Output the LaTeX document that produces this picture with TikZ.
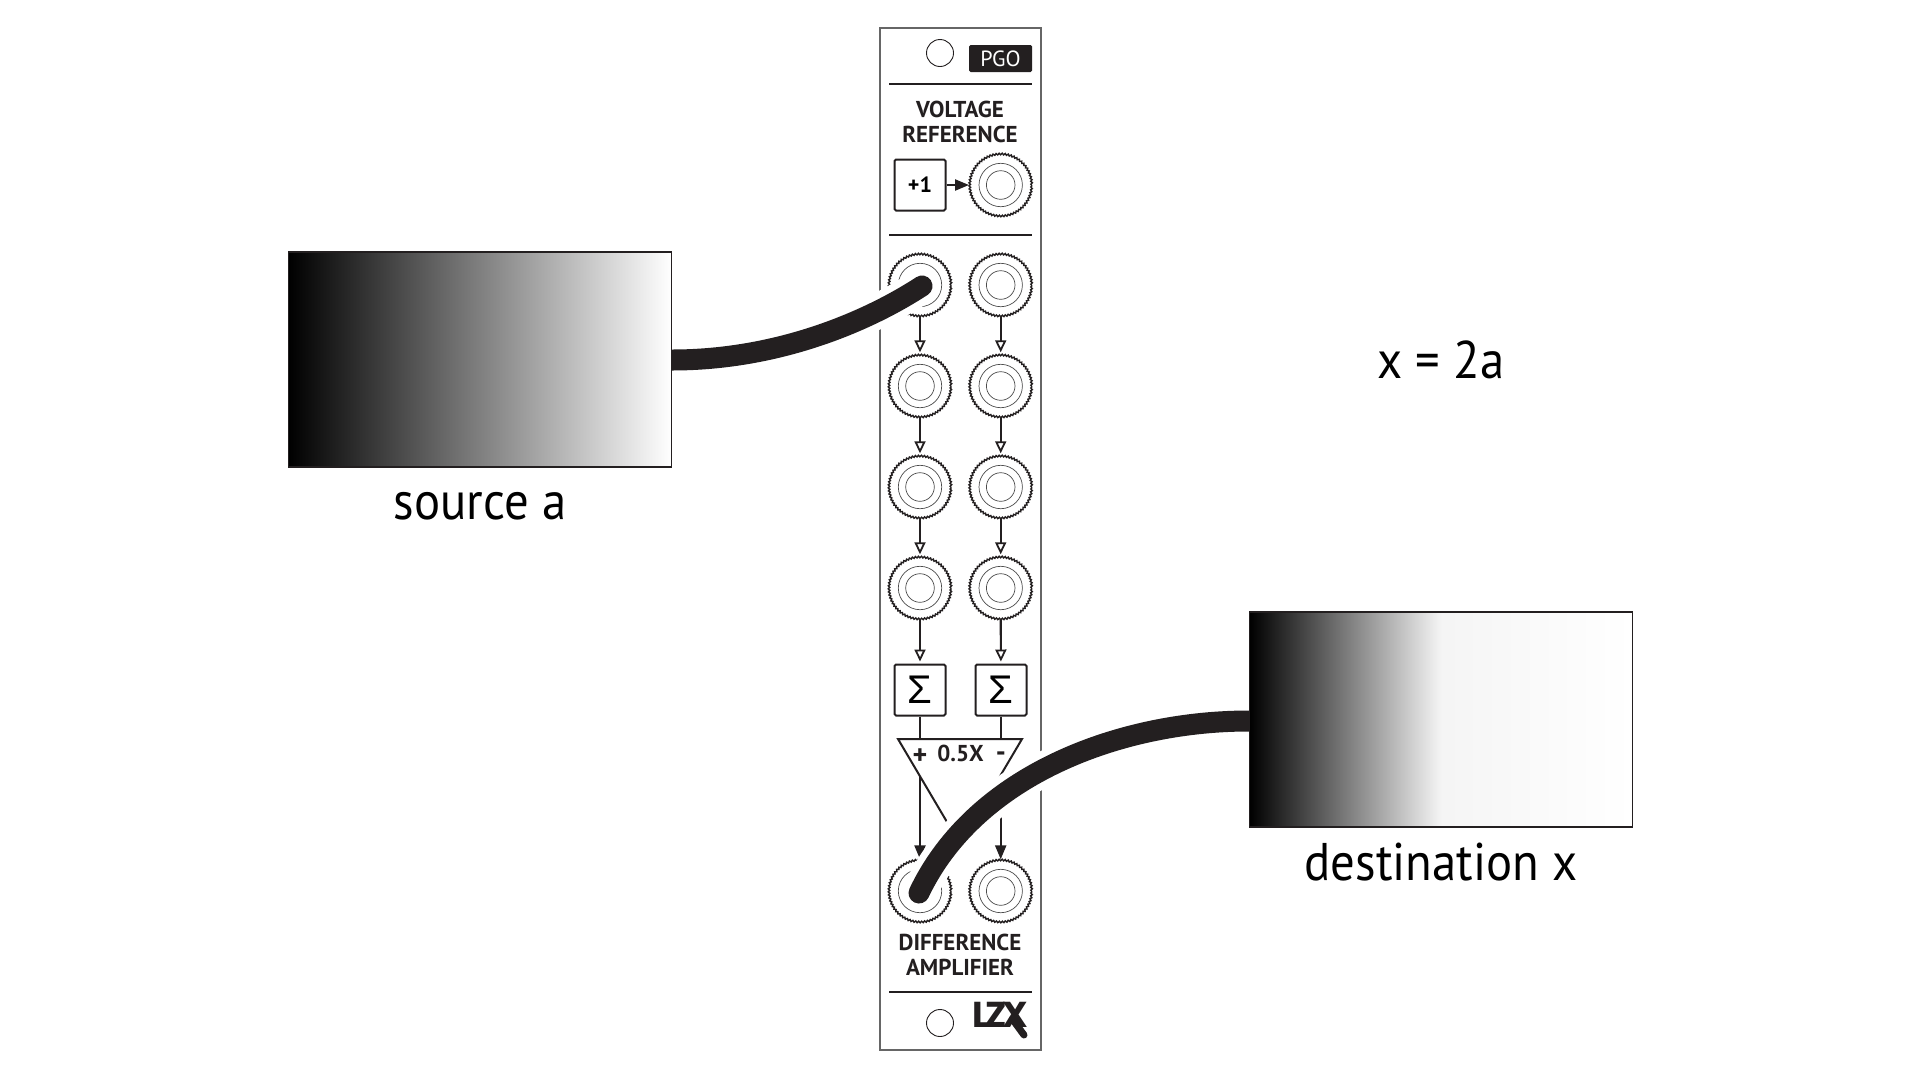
\documentclass[tikz,border=0pt]{standalone}
\usepackage{fontspec}
\setmainfont[FakeStretch=0.92]{PT Sans}
\newfontfamily\panelfont{PT Sans}
\newfontfamily\sigmafont{Liberation Sans}
\newfontfamily\logofont{Poppins}
\usetikzlibrary{arrows.meta,positioning,decorations.pathmorphing}
\definecolor{inkdark}{HTML}{231F20}
\pgfdeclarehorizontalshading{destshade}{100bp}{color(0bp)=(black); color(25bp)=(black); color(50bp)=(black!4); color(75bp)=(white); color(100bp)=(white)}
\tikzset{
    panel/.style={
        rectangle,
        draw=black!60,
        line width=1.3pt,
        fill=white,
        minimum width=161pt,
        minimum height=1022pt,
        inner sep=0pt,
    },
    jack/.style={
        circle,
        draw=inkdark,
        line width=1.4pt,
        minimum size=62pt,
        inner sep=0pt,
        decorate,
        decoration={zigzag,segment length=3pt,amplitude=0.8pt},
    },
    ledhole/.style={
        circle,
        draw=inkdark,
        line width=0.9pt,
        minimum size=27pt,
        inner sep=0pt,
    },
    opbox/.style={
        rectangle,
        rounded corners=1.5pt,
        draw=inkdark,
        line width=2pt,
        minimum size=51pt,
        inner sep=0pt,
    },
    rulebar/.style={
        draw=inkdark,
        line width=2pt,
    },
    ringline/.style={
        draw=black!70,
        line width=0.7pt,
    },
    flow/.style={
        draw=inkdark,
        line width=2.2pt,
        shorten >=2pt,
        -{Triangle[open,fill=white,length=12pt,width=11pt,line width=1.8pt]},
    },
    flowsolid/.style={
        draw=inkdark,
        line width=2.2pt,
        -{Triangle[length=14pt,width=11pt]},
    },
    plainwire/.style={
        draw=inkdark,
        line width=2pt,
    },
    cablehalo/.style={
        draw=white,
        line width=35pt,
        line cap=round,
    },
    cablecore/.style={
        draw=inkdark,
        line width=21pt,
        line cap=round,
    },
    rampbox/.style={
        rectangle,
        draw=inkdark,
        line width=1.2pt,
        minimum width=383pt,
        minimum height=215pt,
        inner sep=0pt,
    },
    paneltext/.style={
        font=\panelfont\bfseries\fontsize{23}{25.5}\selectfont,
        text=inkdark,
        align=center,
        inner sep=0pt,
    },
    biglabel/.style={
        font=\fontsize{53}{60}\selectfont,
        text=black,
        text height=30pt,
        text depth=0pt,
        inner sep=0pt,
    },
}
\newcommand{\jackrings}[1]{
    \draw[ringline] (#1) circle (21.7pt);
    \draw[ringline] (#1) circle (14.3pt);
    \foreach \side in {-1,1} {
        \draw[ringline,draw=black!40] ([shift={(\side*22,2.5)}]#1) -- ([shift={(\side*31,2.5)}]#1);
        \draw[ringline,draw=black!40] ([shift={(\side*22,-2.5)}]#1) -- ([shift={(\side*31,-2.5)}]#1);
    }
}
\begin{document}
\begin{tikzpicture}[x=1pt,y=-1pt]
    \useasboundingbox (0,0) rectangle (1920,1080);
    \node [panel] (front) at (960.5,539) {};
    \node [ledhole] (ledtop) at (940,53) {};
    \node [ledhole] (ledbot) at (940,1023) {};
    \node [rectangle,rounded corners=1.5pt,fill=inkdark,text=white,minimum width=63pt,minimum height=27pt,inner sep=0pt,font=\panelfont\fontsize{22}{24}\selectfont] (pgo) at (1000.5,58.5) {PGO};
    \draw [rulebar] (889,84) -- (1032,84);
    \draw [rulebar] (889,235) -- (1032,235);
    \draw [rulebar] (889,992) -- (1032,992);
    \node [paneltext] (vreftext) at (960,122) {VOLTAGE\\REFERENCE};
    \node [paneltext] (difftext) at (960,955) {DIFFERENCE\\AMPLIFIER};
    \node [opbox,font=\panelfont\bfseries\fontsize{22}{24}\selectfont] (plusone) at (920,185) {+1};
    \node [jack] (jref) at (1000.7,185) {};
    \jackrings{jref}
    \draw [flowsolid] (plusone.east) -- (jref.west);
    \foreach \row/\ypos in {1/285,2/386,3/487,4/588} {
        \node [jack] (jl\row) at (920,\ypos) {};
        \node [jack] (jr\row) at (1000.7,\ypos) {};
        \jackrings{jl\row}
        \jackrings{jr\row}
    }
    \foreach \row/\nxt in {1/2,2/3,3/4} {
        \draw [flow] (jl\row) -- (jl\nxt);
        \draw [flow] (jr\row) -- (jr\nxt);
    }
    \node [opbox,font=\sigmafont\fontsize{40}{40}\selectfont] (suml) at (920,690) {Σ};
    \node [opbox,font=\sigmafont\fontsize{40}{40}\selectfont] (sumr) at (1001,690) {Σ};
    \draw [flow] (jl4) -- (suml);
    \draw [flow] (jr4) -- (sumr);
    \coordinate (ampl) at (898,739);
    \coordinate (ampr) at (1022,739);
    \coordinate (ampc) at (960,844);
    \draw [plainwire,line join=miter] (ampl) -- (ampr) -- (ampc) -- cycle;
    \draw [plainwire] (suml) -- (suml |- ampl);
    \draw [plainwire] (sumr) -- (sumr |- ampr);
    \node [paneltext,font=\panelfont\bfseries\fontsize{23}{24}\selectfont] (ampgain) at (960.5,753) {0.5X};
    \node [paneltext,font=\panelfont\bfseries\fontsize{28}{28}\selectfont] (ampplus) at (920,757) {+};
    \node [paneltext,font=\panelfont\bfseries\fontsize{28}{28}\selectfont] (ampminus) at (1001,757) {-};
    \node [jack] (joutl) at (920,891) {};
    \node [jack] (joutr) at (1000.7,891) {};
    \jackrings{joutl}
    \jackrings{joutr}
    \coordinate (ampoutl) at (920,776);
    \coordinate (ampoutr) at (1000.7,776);
    \draw [flowsolid] (ampoutl) -- (joutl);
    \draw [flowsolid] (ampoutr) -- (joutr);
    \node [anchor=base west,inner sep=0pt,font=\logofont\bfseries\fontsize{36}{36}\selectfont,text=inkdark] (logo) at (972,1027) {L\kern-3.5ptZ\kern-5ptX};
    \draw [draw=inkdark,line width=7pt,line cap=round] (logo.base east) ++(-16,-8) -- (1024,1035);
    % patch cables
    \coordinate (plugin) at (922,286);
    \coordinate (plugout) at (919,893);
    \coordinate (cablesrc) at (672,360);
    \coordinate (cabledst) at (1249,721);
    \draw [cablehalo] (cablesrc) .. controls (780,360) and (870,320) .. (plugin);
    \draw [cablecore] (cablesrc) .. controls (780,360) and (870,320) .. (plugin);
    \draw [cablehalo] (cabledst) .. controls (1120,721) and (975,775) .. (plugout);
    \draw [cablecore] (cabledst) .. controls (1120,721) and (975,775) .. (plugout);
    \node [rampbox,left color=black,right color=white] (srcbox) at (480,359.5) {};
    \node [rampbox,shading=destshade] (dstbox) at (1441,719.5) {};
    \node [biglabel,below=22pt of srcbox] (srctext) {source a};
    \node [biglabel,below=23pt of dstbox] (dsttext) {destination x};
    \node [biglabel,anchor=base] (eqn) at (1441,378) {x = 2a};
\end{tikzpicture}
\end{document}
